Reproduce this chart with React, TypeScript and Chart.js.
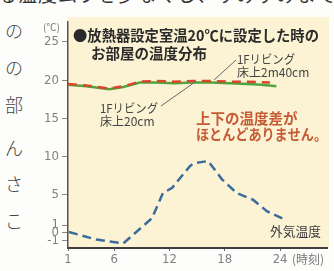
import React, { useEffect, useRef } from "react";
import { Chart, registerables } from "chart.js";

Chart.register(...registerables);

// ---- data (hours of the day, °C) ----
const hourTicks = [1, 6, 12, 18, 24];
const tempTicks = [-1, 0, 1, 5, 10, 15, 20, 25];

const ceilingHours = [1, 3, 5.5, 7, 8.8, 10.5, 12.5, 14.5, 16.5, 18.5, 20.5, 22.9];
const ceilingTemps = [19.5, 19.3, 18.9, 19.2, 19.8, 19.9, 19.8, 19.9, 19.9, 19.8, 19.8, 19.7];

const floorHours = [1, 3, 5.5, 7, 8.8, 10.5, 12.5, 14.5, 16.5, 18.5, 20.5, 22, 23.6];
const floorTemps = [19.4, 19.2, 18.8, 19.1, 19.7, 19.7, 19.6, 19.7, 19.7, 19.6, 19.5, 19.4, 19.2];

const outdoorHours = [1.1, 4.1, 7.0, 10.1, 11.3, 12.3, 14.2, 14.6, 16.2, 17.7, 19.3, 21.1, 22.6, 24.4];
const outdoorTemps = [0.1, -0.9, -1.4, 1.9, 5.2, 5.9, 8.7, 9.1, 9.4, 7.0, 5.2, 4.3, 2.8, 1.8];

const titleLines = ["●放熱器設定室温20℃に設定した時の", "お部屋の温度分布"];
const ceilingLabel = ["1Fリビング", "床上2m40cm"];
const floorLabel = ["1Fリビング", "床上20cm"];
const noteLines = ["上下の温度差が", "ほとんどありません。"];
const outdoorLabel = "外気温度";
const yUnit = "(℃)";
const xUnit = "(時刻)";
const sideChars = ["の", "の", "部", "ん", "さ", "こ"];
const topFragment = "る温度ムラを少なくし、すみずみまで暖かさを";

const JP = '"Noto Sans CJK JP", "Noto Sans", sans-serif';
const NUM = '"Liberation Sans Narrow", "DejaVu Sans Condensed", "Liberation Sans", sans-serif';

const toPts = (xs: number[], ys: number[]) => xs.map((x, i) => ({ x, y: ys[i] }));

const decor = {
  id: "decor",
  beforeDraw(chart: any) {
    const { ctx, chartArea } = chart;
    ctx.save();
    ctx.fillStyle = "#fbf3d3";
    ctx.fillRect(chartArea.left, chartArea.top - 5, chartArea.right - chartArea.left + 2, chartArea.bottom - chartArea.top + 5);
    ctx.restore();
  },
  afterDraw(chart: any) {
    const { ctx } = chart;
    ctx.save();
    ctx.textBaseline = "middle";
    ctx.textAlign = "left";

    // title
    ctx.fillStyle = "#2a2a2a";
    ctx.font = `bold 14.5px ${JP}`;
    ctx.fillText(titleLines[0], 73, 35, 246);
    ctx.fillText(titleLines[1], 91, 53, 119);

    // leader lines
    ctx.strokeStyle = "#666";
    ctx.lineWidth = 1;
    ctx.beginPath();
    ctx.moveTo(236, 60);
    ctx.lineTo(214, 80);
    ctx.moveTo(161, 106);
    ctx.lineTo(195, 82);
    ctx.stroke();

    // series labels
    ctx.fillStyle = "#444";
    ctx.font = `12px ${JP}`;
    ctx.fillText(ceilingLabel[0], 237, 59, 58);
    ctx.fillText(ceilingLabel[1], 237, 72, 79);
    ctx.fillText(floorLabel[0], 100, 108, 58);
    ctx.fillText(floorLabel[1], 100, 121, 57);

    // note
    ctx.fillStyle = "#c65a35";
    ctx.font = `bold 14.5px ${JP}`;
    ctx.fillText(noteLines[0], 196, 118, 103);
    ctx.fillText(noteLines[1], 196, 134, 131);

    // outdoor label
    ctx.fillStyle = "#3a3a3a";
    ctx.font = `13px ${JP}`;
    ctx.fillText(outdoorLabel, 270, 231, 51);

    // units
    ctx.fillStyle = "#777";
    ctx.font = `10px ${JP}`;
    ctx.fillText(yUnit, 43, 27, 20);
    ctx.font = `12px ${JP}`;
    ctx.fillText(xUnit, 292, 259, 35);
    ctx.restore();
  },
};

export default function App() {
  const ref = useRef<HTMLCanvasElement | null>(null);

  useEffect(() => {
    if (!ref.current) return;
    const chart = new Chart(ref.current, {
      type: "line",
      data: {
        datasets: [
          {
            label: "1Fリビング 床上2m40cm",
            data: toPts(ceilingHours, ceilingTemps),
            borderColor: "#d8472c",
            borderWidth: 2.5,
            borderDash: [9, 6],
            pointRadius: 0,
            tension: 0,
          },
          {
            label: "1Fリビング 床上20cm",
            data: toPts(floorHours, floorTemps),
            borderColor: "#4ea53f",
            borderWidth: 2.5,
            pointRadius: 0,
            tension: 0,
          },
          {
            label: "外気温度",
            data: toPts(outdoorHours, outdoorTemps),
            borderColor: "#3b6c9c",
            borderWidth: 2.5,
            borderDash: [9, 5],
            pointRadius: 0,
            tension: 0,
          },
        ],
      },
      options: {
        animation: false,
        responsive: false,
        devicePixelRatio: 1,
        layout: { padding: { top: 22, right: 7, left: 0, bottom: 0 } },
        plugins: { legend: { display: false }, tooltip: { enabled: false }, title: { display: false } },
        scales: {
          x: {
            type: "linear",
            min: 1,
            max: 29.09,
            afterBuildTicks: (s: any) => {
              s.ticks = hourTicks.map((v) => ({ value: v }));
            },
            afterFit: (s: any) => {
              s.height = 23;
            },
            ticks: {
              autoSkip: false,
              maxRotation: 0,
              padding: 1,
              color: "#808080",
              font: { family: NUM, size: 13 },
              callback: (v: any) => String(v),
            },
            grid: { drawOnChartArea: false, drawTicks: true, tickLength: 3, color: "#666" },
            border: { display: true, color: "#3e3e3e", width: 2 },
          },
          y: {
            type: "linear",
            min: -2,
            max: 27.62,
            afterBuildTicks: (s: any) => {
              s.ticks = tempTicks.map((v) => ({ value: v }));
            },
            afterFit: (s: any) => {
              s.width = 68;
            },
            ticks: {
              autoSkip: false,
              padding: 3,
              color: "#808080",
              font: { family: NUM, size: 13 },
              callback: (v: any) => String(v),
            },
            grid: { drawOnChartArea: false, drawTicks: true, tickLength: 6, color: "#888" },
            border: { display: true, color: "#5a5248", width: 1.5 },
          },
        },
      },
      plugins: [decor],
    });
    return () => chart.destroy();
  }, []);

  const sideY = [30, 67, 104, 147, 183, 220];

  return (
    <div style={{ position: "absolute", left: 0, top: 0, width: 334, height: 271, background: "#fdfdfb", overflow: "hidden" }}>
      <div
        style={{
          position: "absolute",
          left: 0,
          top: 0,
          width: 334,
          height: 8,
          overflow: "hidden",
        }}
      >
        <div
          style={{
            position: "absolute",
            left: -2,
            top: -16,
            fontFamily: JP,
            fontSize: 19,
            lineHeight: "19px",
            letterSpacing: 1,
            color: "#333",
            whiteSpace: "nowrap",
          }}
        >
          {topFragment}
        </div>
      </div>
      {sideChars.map((c, i) => (
        <span
          key={i}
          style={{
            position: "absolute",
            left: 5,
            top: sideY[i] - 11,
            fontFamily: JP,
            fontSize: 18,
            fontWeight: 300,
            lineHeight: "22px",
            color: "#444",
          }}
        >
          {c}
        </span>
      ))}
      <canvas ref={ref} width={334} height={271} style={{ position: "absolute", left: 0, top: 0 }} />
    </div>
  );
}
